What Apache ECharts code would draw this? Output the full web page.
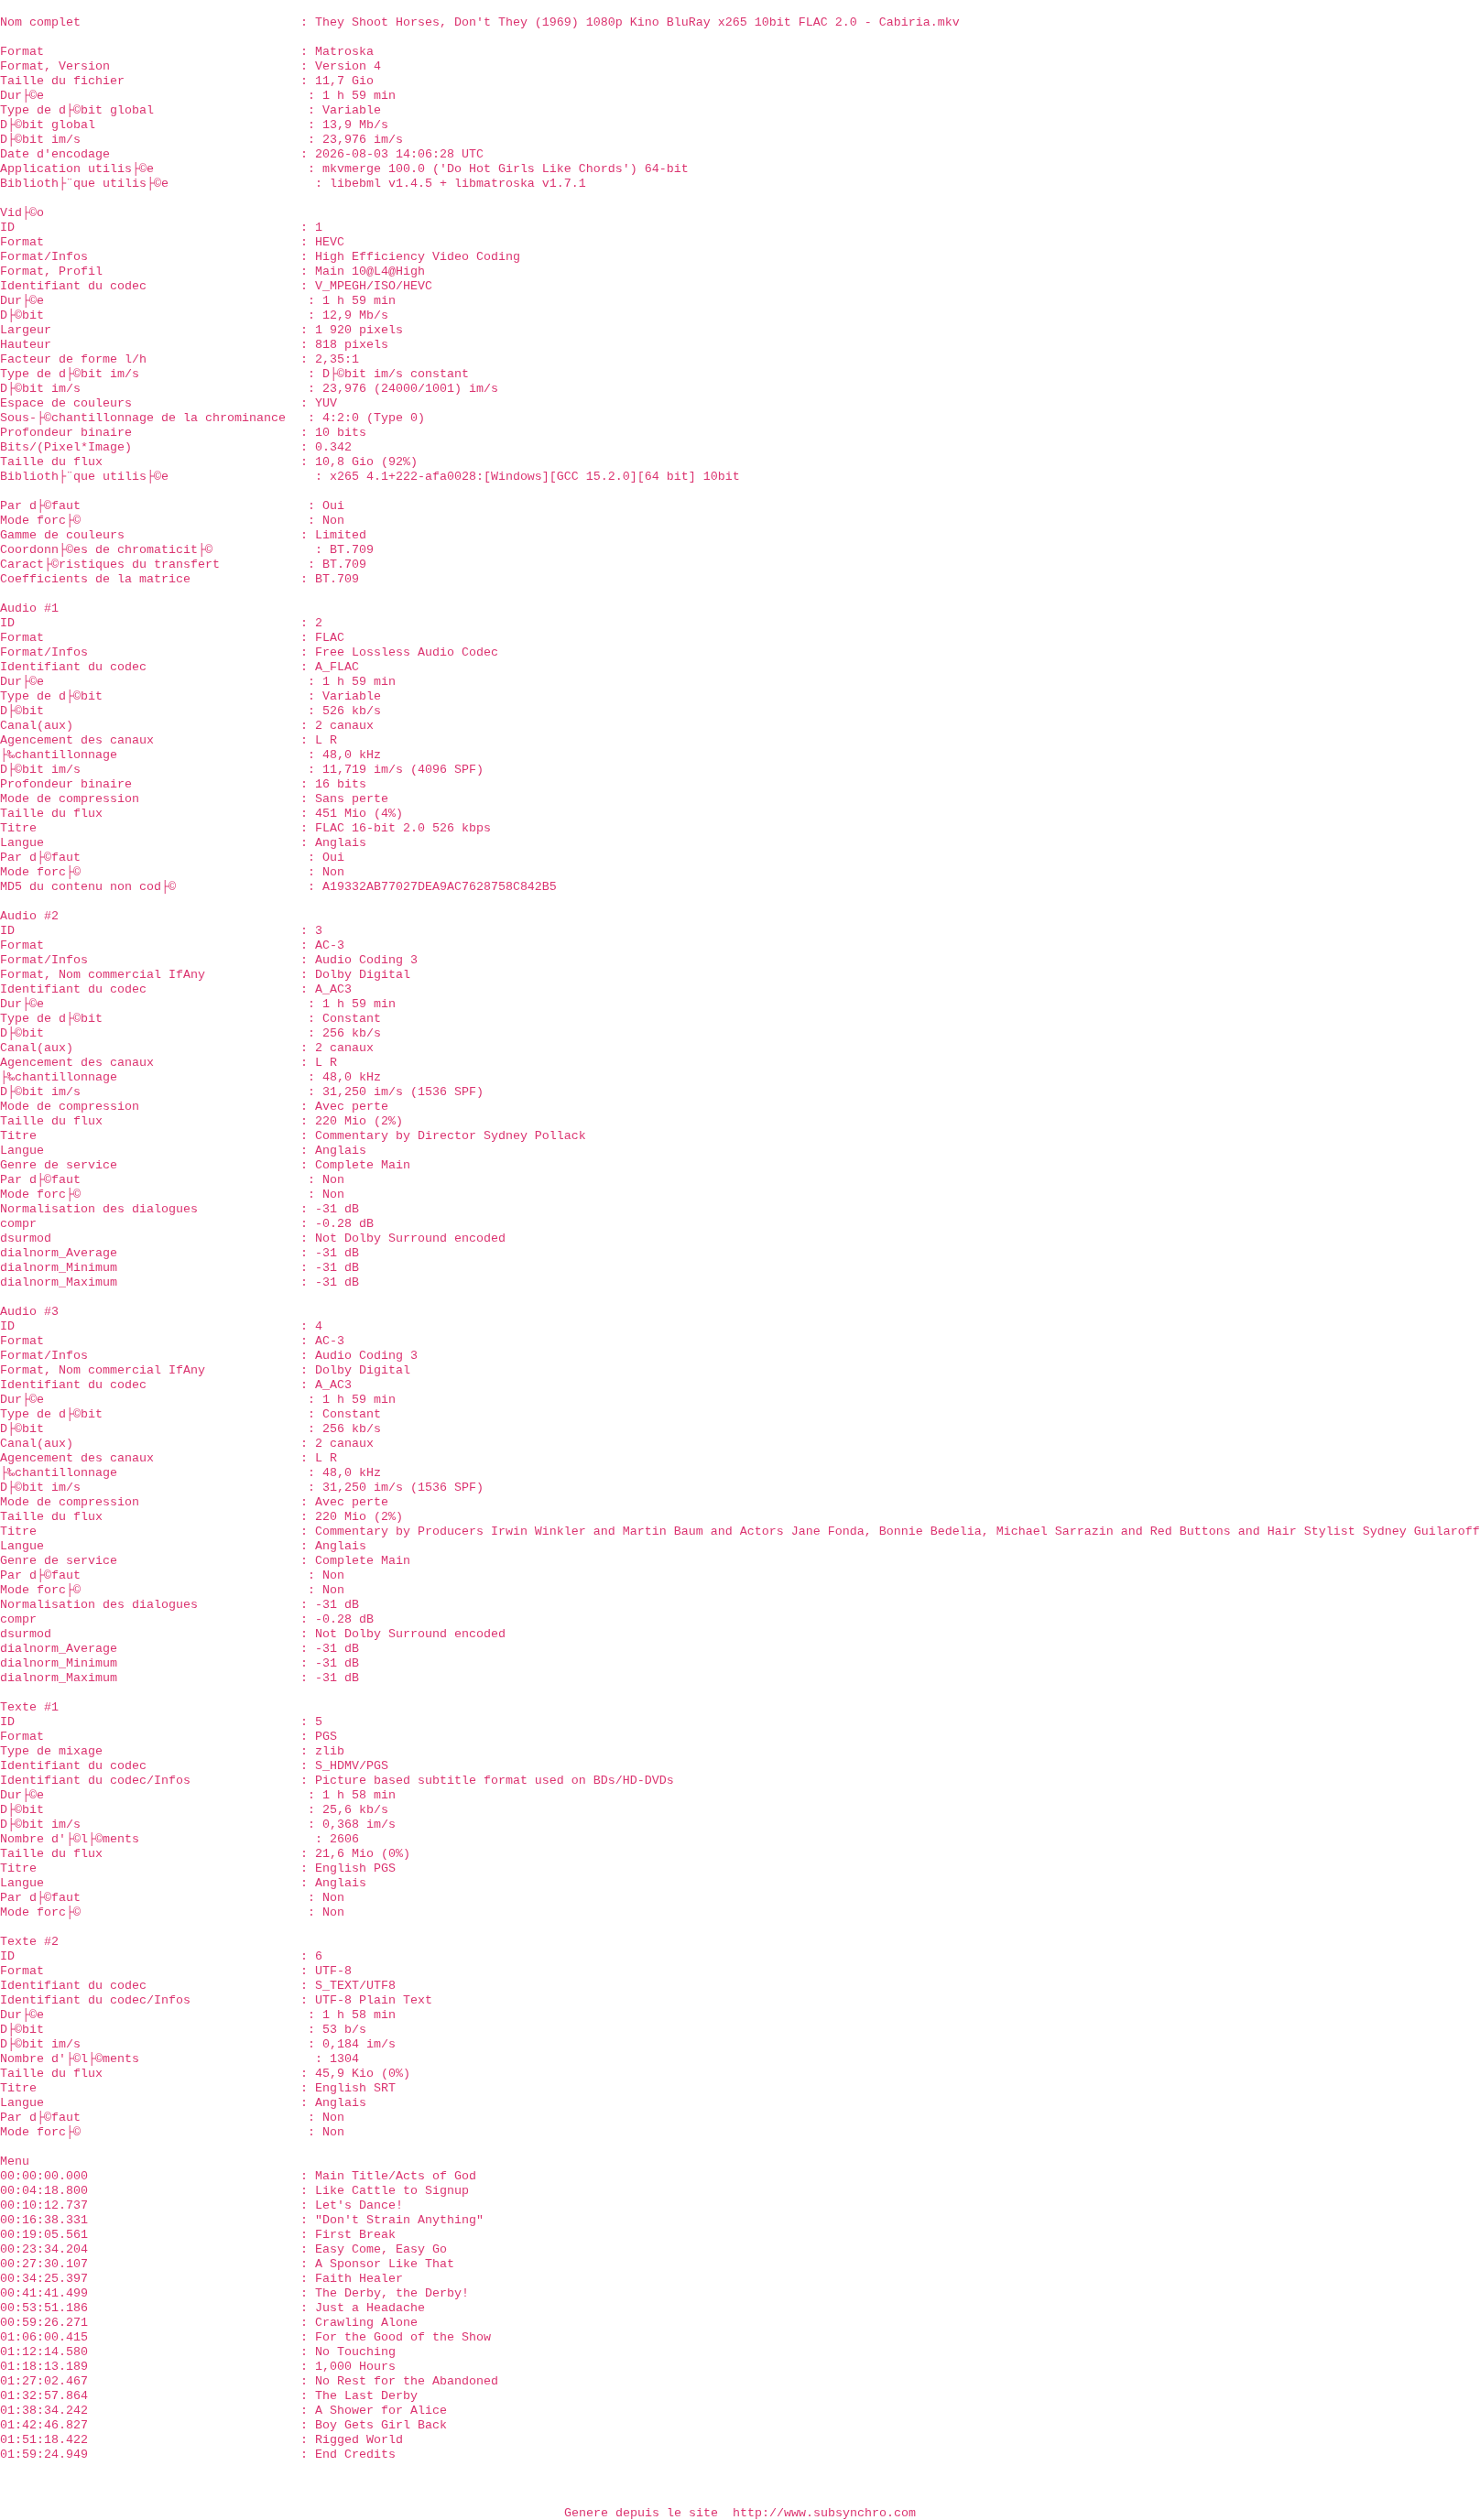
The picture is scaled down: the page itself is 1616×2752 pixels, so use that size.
<!DOCTYPE html>
<html>
<head>
<meta charset="utf-8">
<script src="https://cdn.jsdelivr.net/npm/echarts@6/dist/echarts.min.js"></script>
<style>
html,body{margin:0;padding:0;background:#ffffff;}
#chart{width:1616px;height:2752px;}
</style>
</head>
<body>
<div id="chart"></div>
<script>
// ---- data (as displayed, including the mojibake of the original file) ----
const generalTitle = [["Nom complet", "They Shoot Horses, Don't They (1969) 1080p Kino BluRay x265 10bit FLAC 2.0 - Cabiria.mkv"]];
const generalRows = [
  ["Format", "Matroska"],
  ["Format, Version", "Version 4"],
  ["Taille du fichier", "11,7 Gio"],
  ["Dur├©e", "1 h 59 min"],
  ["Type de d├©bit global", "Variable"],
  ["D├©bit global", "13,9 Mb/s"],
  ["D├©bit im/s", "23,976 im/s"],
  ["Date d'encodage", "2026-08-03 14:06:28 UTC"],
  ["Application utilis├©e", "mkvmerge 100.0 ('Do Hot Girls Like Chords') 64-bit"],
  ["Biblioth├¨que utilis├©e", "libebml v1.4.5 + libmatroska v1.7.1"]
];
const videoRows = [
  ["ID", "1"],
  ["Format", "HEVC"],
  ["Format/Infos", "High Efficiency Video Coding"],
  ["Format, Profil", "Main 10@L4@High"],
  ["Identifiant du codec", "V_MPEGH/ISO/HEVC"],
  ["Dur├©e", "1 h 59 min"],
  ["D├©bit", "12,9 Mb/s"],
  ["Largeur", "1 920 pixels"],
  ["Hauteur", "818 pixels"],
  ["Facteur de forme l/h", "2,35:1"],
  ["Type de d├©bit im/s", "D├©bit im/s constant"],
  ["D├©bit im/s", "23,976 (24000/1001) im/s"],
  ["Espace de couleurs", "YUV"],
  ["Sous-├©chantillonnage de la chrominance", "4:2:0 (Type 0)"],
  ["Profondeur binaire", "10 bits"],
  ["Bits/(Pixel*Image)", "0.342"],
  ["Taille du flux", "10,8 Gio (92%)"],
  ["Biblioth├¨que utilis├©e", "x265 4.1+222-afa0028:[Windows][GCC 15.2.0][64 bit] 10bit"],
  null,
  ["Par d├©faut", "Oui"],
  ["Mode forc├©", "Non"],
  ["Gamme de couleurs", "Limited"],
  ["Coordonn├©es de chromaticit├©", "BT.709"],
  ["Caract├©ristiques du transfert", "BT.709"],
  ["Coefficients de la matrice", "BT.709"]
];
const audio1Rows = [
  ["ID", "2"],
  ["Format", "FLAC"],
  ["Format/Infos", "Free Lossless Audio Codec"],
  ["Identifiant du codec", "A_FLAC"],
  ["Dur├©e", "1 h 59 min"],
  ["Type de d├©bit", "Variable"],
  ["D├©bit", "526 kb/s"],
  ["Canal(aux)", "2 canaux"],
  ["Agencement des canaux", "L R"],
  ["├‰chantillonnage", "48,0 kHz"],
  ["D├©bit im/s", "11,719 im/s (4096 SPF)"],
  ["Profondeur binaire", "16 bits"],
  ["Mode de compression", "Sans perte"],
  ["Taille du flux", "451 Mio (4%)"],
  ["Titre", "FLAC 16-bit 2.0 526 kbps"],
  ["Langue", "Anglais"],
  ["Par d├©faut", "Oui"],
  ["Mode forc├©", "Non"],
  ["MD5 du contenu non cod├©", "A19332AB77027DEA9AC7628758C842B5"]
];
const audio2Rows = [
  ["ID", "3"],
  ["Format", "AC-3"],
  ["Format/Infos", "Audio Coding 3"],
  ["Format, Nom commercial IfAny", "Dolby Digital"],
  ["Identifiant du codec", "A_AC3"],
  ["Dur├©e", "1 h 59 min"],
  ["Type de d├©bit", "Constant"],
  ["D├©bit", "256 kb/s"],
  ["Canal(aux)", "2 canaux"],
  ["Agencement des canaux", "L R"],
  ["├‰chantillonnage", "48,0 kHz"],
  ["D├©bit im/s", "31,250 im/s (1536 SPF)"],
  ["Mode de compression", "Avec perte"],
  ["Taille du flux", "220 Mio (2%)"],
  ["Titre", "Commentary by Director Sydney Pollack"],
  ["Langue", "Anglais"],
  ["Genre de service", "Complete Main"],
  ["Par d├©faut", "Non"],
  ["Mode forc├©", "Non"],
  ["Normalisation des dialogues", "-31 dB"],
  ["compr", "-0.28 dB"],
  ["dsurmod", "Not Dolby Surround encoded"],
  ["dialnorm_Average", "-31 dB"],
  ["dialnorm_Minimum", "-31 dB"],
  ["dialnorm_Maximum", "-31 dB"]
];
const audio3Rows = [
  ["ID", "4"],
  ["Format", "AC-3"],
  ["Format/Infos", "Audio Coding 3"],
  ["Format, Nom commercial IfAny", "Dolby Digital"],
  ["Identifiant du codec", "A_AC3"],
  ["Dur├©e", "1 h 59 min"],
  ["Type de d├©bit", "Constant"],
  ["D├©bit", "256 kb/s"],
  ["Canal(aux)", "2 canaux"],
  ["Agencement des canaux", "L R"],
  ["├‰chantillonnage", "48,0 kHz"],
  ["D├©bit im/s", "31,250 im/s (1536 SPF)"],
  ["Mode de compression", "Avec perte"],
  ["Taille du flux", "220 Mio (2%)"],
  ["Titre", "Commentary by Producers Irwin Winkler and Martin Baum and Actors Jane Fonda, Bonnie Bedelia, Michael Sarrazin and Red Buttons and Hair Stylist Sydney Guilaroff"],
  ["Langue", "Anglais"],
  ["Genre de service", "Complete Main"],
  ["Par d├©faut", "Non"],
  ["Mode forc├©", "Non"],
  ["Normalisation des dialogues", "-31 dB"],
  ["compr", "-0.28 dB"],
  ["dsurmod", "Not Dolby Surround encoded"],
  ["dialnorm_Average", "-31 dB"],
  ["dialnorm_Minimum", "-31 dB"],
  ["dialnorm_Maximum", "-31 dB"]
];
const text1Rows = [
  ["ID", "5"],
  ["Format", "PGS"],
  ["Type de mixage", "zlib"],
  ["Identifiant du codec", "S_HDMV/PGS"],
  ["Identifiant du codec/Infos", "Picture based subtitle format used on BDs/HD-DVDs"],
  ["Dur├©e", "1 h 58 min"],
  ["D├©bit", "25,6 kb/s"],
  ["D├©bit im/s", "0,368 im/s"],
  ["Nombre d'├©l├©ments", "2606"],
  ["Taille du flux", "21,6 Mio (0%)"],
  ["Titre", "English PGS"],
  ["Langue", "Anglais"],
  ["Par d├©faut", "Non"],
  ["Mode forc├©", "Non"]
];
const text2Rows = [
  ["ID", "6"],
  ["Format", "UTF-8"],
  ["Identifiant du codec", "S_TEXT/UTF8"],
  ["Identifiant du codec/Infos", "UTF-8 Plain Text"],
  ["Dur├©e", "1 h 58 min"],
  ["D├©bit", "53 b/s"],
  ["D├©bit im/s", "0,184 im/s"],
  ["Nombre d'├©l├©ments", "1304"],
  ["Taille du flux", "45,9 Kio (0%)"],
  ["Titre", "English SRT"],
  ["Langue", "Anglais"],
  ["Par d├©faut", "Non"],
  ["Mode forc├©", "Non"]
];
const menuTimes = ["00:00:00.000","00:04:18.800","00:10:12.737","00:16:38.331","00:19:05.561","00:23:34.204","00:27:30.107","00:34:25.397","00:41:41.499","00:53:51.186","00:59:26.271","01:06:00.415","01:12:14.580","01:18:13.189","01:27:02.467","01:32:57.864","01:38:34.242","01:42:46.827","01:51:18.422","01:59:24.949"];
const menuTitles = ["Main Title/Acts of God","Like Cattle to Signup","Let's Dance!","\"Don't Strain Anything\"","First Break","Easy Come, Easy Go","A Sponsor Like That","Faith Healer","The Derby, the Derby!","Just a Headache","Crawling Alone","For the Good of the Show","No Touching","1,000 Hours","No Rest for the Abandoned","The Last Derby","A Shower for Alice","Boy Gets Girl Back","Rigged World","End Credits"];
const sections = [
  { header: null, rows: generalTitle.concat([null], generalRows) },
  { header: "Vid├©o", rows: videoRows },
  { header: "Audio #1", rows: audio1Rows },
  { header: "Audio #2", rows: audio2Rows },
  { header: "Audio #3", rows: audio3Rows },
  { header: "Texte #1", rows: text1Rows },
  { header: "Texte #2", rows: text2Rows },
  { header: "Menu", rows: menuTimes.map((t, i) => [t, menuTitles[i]]) }
];
const footerText = "Genere depuis le site  http://www.subsynchro.com";

// ---- build text lines ----
function fmtRow(r) {
  const extra = (r[0].match(/├/g) || []).length; // each mojibake pair was one char when padded
  return r[0].padEnd(41 + extra, ' ') + ': ' + r[1];
}
const lines = [];
sections.forEach((s, si) => {
  if (s.header) lines.push(s.header);
  s.rows.forEach(r => lines.push(r ? fmtRow(r) : ''));
  if (si < sections.length - 1) lines.push('');
});
const footerLine = lines.length + 3;

const textData = [];
lines.forEach((t, i) => { if (t) textData.push([0, i, t]); });

const COLS = 202;
const color = '#d2004c';
const font = "'Liberation Mono', 'DejaVu Sans Mono', monospace";

const chart = echarts.init(document.getElementById('chart'), null, { renderer: 'canvas' });
chart.setOption({
  animation: false,
  backgroundColor: '#ffffff',
  grid: { left: 0, right: 0, top: 0, bottom: 0 },
  xAxis: { type: 'value', min: 0, max: COLS, show: false },
  yAxis: { type: 'value', inverse: true, min: -1.5, max: 170.5, show: false },
  series: [
    {
      type: 'scatter',
      symbol: 'rect',
      symbolSize: 0.01,
      itemStyle: { color: 'rgba(0,0,0,0)' },
      silent: true,
      clip: false,
      data: textData,
      label: {
        show: true,
        position: 'right',
        distance: 0,
        formatter: p => p.data[2],
        color: color,
        fontFamily: font,
        fontSize: 13.333,
        fontWeight: 'normal'
      }
    },
    {
      type: 'scatter',
      symbol: 'rect',
      symbolSize: 0.01,
      itemStyle: { color: 'rgba(0,0,0,0)' },
      silent: true,
      clip: false,
      data: [[COLS / 2, footerLine, footerText]],
      label: {
        show: true,
        position: 'inside',
        formatter: p => p.data[2],
        color: color,
        fontFamily: font,
        fontSize: 13.333
      }
    }
  ]
});
</script>
</body>
</html>
